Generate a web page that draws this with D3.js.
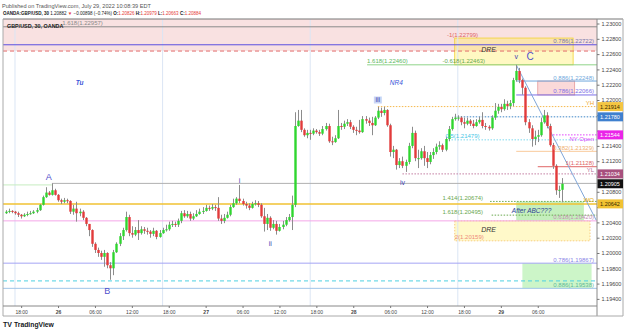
<!DOCTYPE html>
<html><head><meta charset="utf-8">
<script src="https://cdn.jsdelivr.net/npm/d3@7/dist/d3.min.js"></script>
<style>body{margin:0;background:#fff;}svg{display:block;font-family:"Liberation Sans",Arial,sans-serif;}</style>
</head><body><svg id="c" width="625" height="334"></svg>
<script>
// ---------- DATA ----------
const firstBarTime = "2022-07-25 15:30";   // 30-minute bars
const firstOpen = 1.2052;
const closes = [
1.2054,1.2055,1.2054,1.2052,1.2050,1.2048,1.2050,1.2051,1.2052,1.2054,
1.2056,1.2063,1.2073,1.2079,1.2076,1.2082,1.2076,1.2069,1.2067,1.2069,
1.2068,1.2054,1.2058,1.2052,1.2054,1.2046,1.2038,1.2030,1.2012,1.2004,
1.2000,1.1995,1.2000,1.1984,1.1980,1.2001,1.2012,1.2022,1.2030,1.2047,
1.2026,1.2024,1.2030,1.2026,1.2031,1.2029,1.2028,1.2025,1.2029,1.2021,
1.2026,1.2030,1.2031,1.2037,1.2038,1.2037,1.2042,1.2052,1.2048,1.2051,
1.2045,1.2048,1.2051,1.2054,1.2055,1.2059,1.2058,1.2060,1.2059,1.2045,
1.2042,1.2046,1.2050,1.2060,1.2065,1.2071,1.2068,1.2064,1.2062,1.2059,
1.2064,1.2065,1.2063,1.2048,1.2038,1.2046,1.2033,1.2038,1.2029,1.2034,
1.2037,1.2043,1.2047,1.2063,1.2166,1.2173,1.2161,1.2154,1.2157,1.2156,
1.2160,1.2158,1.2156,1.2162,1.2166,1.2146,1.2145,1.2150,1.2166,1.2165,
1.2169,1.2171,1.2165,1.2161,1.2160,1.2158,1.2175,1.2173,1.2170,1.2167,
1.2177,1.2186,1.2183,1.2187,1.2167,1.2132,1.2135,1.2115,1.2120,1.2114,
1.2119,1.2140,1.2157,1.2124,1.2124,1.2133,1.2124,1.2119,1.2128,1.2132,
1.2139,1.2141,1.2135,1.2149,1.2162,1.2175,1.2177,1.2177,1.2171,1.2169,
1.2173,1.2169,1.2166,1.2171,1.2174,1.2166,1.2165,1.2163,1.2177,1.2186,
1.2191,1.2188,1.2195,1.2192,1.2196,1.2226,1.2238,1.2226,1.2216,1.2171,
1.2163,1.2149,1.2152,1.2154,1.2171,1.2180,1.2166,1.2141,1.2114,1.2082,
1.20826,1.20905];
const highs = [
1.2056,1.2058,1.2056,1.2055,1.2054,1.2051,1.2052,1.2054,1.2055,1.2056,
1.2059,1.2064,1.2075,1.2086,1.2081,1.2091,1.2084,1.2077,1.2071,1.2072,
1.2071,1.2069,1.2063,1.2067,1.2058,1.2056,1.2047,1.2038,1.2031,1.2014,
1.2007,1.2003,1.2004,1.2001,1.1988,1.2004,1.2014,1.2026,1.2033,1.2054,
1.2050,1.2035,1.2034,1.2043,1.2035,1.2034,1.2033,1.2030,1.2033,1.2030,
1.2030,1.2033,1.2037,1.2041,1.2042,1.2041,1.2045,1.2055,1.2056,1.2055,
1.2054,1.2052,1.2056,1.2058,1.2060,1.2063,1.2062,1.2064,1.2063,1.2073,
1.2050,1.2051,1.2054,1.2063,1.2071,1.2073,1.2089,1.2071,1.2067,1.2065,
1.2067,1.2069,1.2068,1.2065,1.2059,1.2051,1.2048,1.2043,1.2042,1.2038,
1.2042,1.2047,1.2051,1.2075,1.2184,1.2187,1.2187,1.2163,1.2161,1.2161,
1.2163,1.2162,1.2161,1.2166,1.2170,1.2169,1.2152,1.2154,1.2187,1.2170,
1.2173,1.2175,1.2174,1.2167,1.2165,1.2174,1.2179,1.2179,1.2177,1.2178,
1.2179,1.2191,1.2190,1.2191,1.2188,1.2169,1.2140,1.2136,1.2124,1.2126,
1.2122,1.2144,1.2165,1.2160,1.2135,1.2137,1.2140,1.2132,1.2132,1.2137,
1.2143,1.2146,1.2143,1.2152,1.2166,1.2178,1.2182,1.2180,1.2179,1.2177,
1.2177,1.2175,1.2174,1.2175,1.2178,1.2184,1.2170,1.2167,1.2180,1.2196,
1.2195,1.2195,1.2201,1.2199,1.2200,1.2229,1.2246,1.2242,1.2228,1.2218,
1.2175,1.2167,1.2160,1.2161,1.2177,1.2187,1.2184,1.2169,1.2144,1.2116,
1.2088,1.20979];
const lows = [
1.2051,1.2052,1.2052,1.2050,1.2047,1.2045,1.2047,1.2048,1.2050,1.2051,
1.2052,1.2055,1.2062,1.2072,1.2075,1.2075,1.2075,1.2067,1.2064,1.2065,
1.2065,1.2051,1.2050,1.2041,1.2048,1.2043,1.2035,1.2022,1.2008,1.2000,
1.1995,1.1991,1.1982,1.1980,1.1965,1.1971,1.2000,1.2009,1.2017,1.2028,
1.2022,1.2020,1.2022,1.2017,1.2024,1.2025,1.2024,1.2020,1.2022,1.2018,
1.2020,1.2025,1.2028,1.2029,1.2034,1.2034,1.2034,1.2039,1.2046,1.2046,
1.2042,1.2043,1.2047,1.2050,1.2051,1.2054,1.2055,1.2056,1.2055,1.2042,
1.2038,1.2039,1.2045,1.2048,1.2059,1.2063,1.2065,1.2062,1.2058,1.2056,
1.2058,1.2062,1.2060,1.2046,1.2028,1.2030,1.2029,1.2031,1.2024,1.2028,
1.2031,1.2035,1.2041,1.2030,1.2060,1.2165,1.2158,1.2152,1.2150,1.2148,
1.2154,1.2156,1.2153,1.2154,1.2160,1.2144,1.2141,1.2144,1.2149,1.2161,
1.2162,1.2166,1.2162,1.2157,1.2154,1.2156,1.2157,1.2169,1.2166,1.2154,
1.2166,1.2175,1.2178,1.2180,1.2165,1.2126,1.2124,1.2109,1.2111,1.2111,
1.2106,1.2116,1.2137,1.2120,1.2111,1.2122,1.2114,1.2111,1.2116,1.2123,
1.2129,1.2135,1.2132,1.2133,1.2146,1.2160,1.2173,1.2173,1.2167,1.2163,
1.2167,1.2166,1.2163,1.2165,1.2169,1.2163,1.2161,1.2160,1.2161,1.2174,
1.2182,1.2184,1.2186,1.2187,1.2188,1.2192,1.2224,1.2222,1.2207,1.2167,
1.2157,1.2139,1.2141,1.2145,1.2152,1.2169,1.2163,1.2139,1.2110,1.2076,
1.2072,1.20663];

const yTicks = d3.range(1.194, 1.2301, 0.002);
const xTickTimes = ["2022-07-25 18:00","2022-07-26 00:00","2022-07-26 06:00","2022-07-26 12:00","2022-07-26 18:00",
  "2022-07-27 00:00","2022-07-27 06:00","2022-07-27 12:00","2022-07-27 18:00","2022-07-28 00:00","2022-07-28 06:00",
  "2022-07-28 12:00","2022-07-28 18:00","2022-07-29 00:00","2022-07-29 06:00"];
const sessionTimes = ["2022-07-25 17:00","2022-07-26 17:00","2022-07-27 17:00","2022-07-28 17:00"];

// horizontal levels: text, price, line start (null = left edge), label time (null = right side)
const levelText  = ["1.618(1.22957)","0.786(1.22722)","","1.618(1.22460)","0.886(1.22248)","0.786(1.22066)","YH","","NY Open",
  "0.5(1.21479)","0.382(1.21329)","1(1.21128)","YL","","1.414(1.20674)","WO","1.618(1.20495)","0.618(1.20420)","0.786(1.19867)","","0.886(1.19538)"];
const levelPrice = [1.22957,1.22722,1.2264,1.22460,1.22248,1.22066,1.21914,1.21780,1.21544,
  1.21479,1.21329,1.21128,1.21034,1.2091,1.20674,1.20642,1.20495,1.20420,1.19867,1.19635,1.19538];
const levelFrom  = [null,null,null,"2022-07-28 02:15","2022-07-29 02:30","2022-07-29 02:30","2022-07-28 04:00","2022-07-28 16:30","2022-07-29 08:00",
  "2022-07-28 15:00","2022-07-29 02:30","2022-07-29 06:00","2022-07-28 08:00","2022-07-25 23:00","2022-07-28 22:15",null,"2022-07-28 22:30",null,null,null,null];
const levelLabelAt = ["2022-07-26 00:40",null,null,"2022-07-28 02:15",null,null,null,null,null,
  "2022-07-28 15:00",null,null,null,null,"2022-07-28 14:30",null,"2022-07-28 14:30",null,null,null,null];

// extra fib labels: text, price, time
const extraText  = ["-1(1.22799)","-0.618(1.22463)","2(1.20159)"];
const extraPrice = [1.22799,1.22463,1.20159];
const extraTime  = ["2022-07-28 15:15","2022-07-28 14:30","2022-07-28 16:30"];

// zones: from time, to time (null = edge), top price, bottom price
const zoneFrom = [null,"2022-07-28 16:30","2022-07-29 06:00","2022-07-29 02:30","2022-07-28 16:30","2022-07-29 03:30"];
const zoneTo   = [null,"2022-07-29 11:45","2022-07-29 12:00","2022-07-29 13:30","2022-07-29 14:30","2022-07-29 14:45"];
const zoneTop  = [1.2306,1.22810,1.22248,1.20674,1.20420,1.19867];
const zoneBot  = [1.2264,1.22460,1.22066,1.20420,1.20159,1.19538];

// trend line from C
const trendTimes  = ["2022-07-29 02:30","2022-07-29 15:30"];
const trendPrices = [1.2246,1.2043];

// wave / text labels: text, time, price
const waveText  = ["A","B","i","ii","iii","iv","v","C","Tu","NR4","DRE","DRE","After ABC???"];
const waveTime  = ["2022-07-25 22:30","2022-07-26 08:00","2022-07-27 05:30","2022-07-27 10:30","2022-07-28 04:00","2022-07-28 08:00",
  "2022-07-29 02:30","2022-07-29 04:45","2022-07-26 03:30","2022-07-28 07:00","2022-07-28 22:00","2022-07-28 22:00","2022-07-29 05:00"];
const wavePrice = [1.2099,1.1950,1.2095,1.2012,1.2200,1.2092,1.2257,1.2257,1.2222,1.2222,1.2266,1.2031,1.2055];

const axisMarks = [1.21914,1.21780,1.21544,1.21034,1.20905,1.20642];

// header quote line pieces
const quoteParts = ["OANDA:GBP/USD, 30 ","1.20882 ","▼ ","−0.00898 (−0.74%) ","O:","1.20826 ","H:","1.20979 ","L:","1.20663 ","C:","1.20884"];

// ---------- DRAW ----------
const svg = d3.select("#c");
const T = d3.timeParse("%Y-%m-%d %H:%M");
const L = 3, R = 597, TOP = 19, BOT = 306;
const x = d3.scaleTime().domain([T("2022-07-25 15:03"), T("2022-07-29 15:38")]).range([L, R]);
const y = d3.scaleLinear().domain([1.19307, 1.23059]).range([BOT, TOP]);
const fmt = d3.format(".5f");

svg.append("defs").append("clipPath").attr("id","plot").append("rect")
  .attr("x",L).attr("y",TOP).attr("width",R-L).attr("height",BOT-TOP);
const g = svg.append("g").attr("clip-path","url(#plot)");

const xs = t => t ? x(T(t)) : null;

// zones
const zoneStyle = [
  {fill:"#f9e1e1", stroke:"none"},
  {fill:"rgba(255,236,80,0.35)", stroke:"#f1d232"},
  {fill:"rgba(240,120,120,0.28)", stroke:"#e59a9a"},
  {fill:"rgba(110,215,90,0.40)", stroke:"none"},
  {fill:"rgba(255,240,120,0.40)", stroke:"#f6c26b"},
  {fill:"rgba(120,230,110,0.38)", stroke:"none"}];
zoneTop.forEach((tp,i)=>{
  const x0 = zoneFrom[i] ? xs(zoneFrom[i]) : L, x1 = zoneTo[i] ? xs(zoneTo[i]) : R;
  g.append("rect").attr("x",x0).attr("y",y(tp)).attr("width",x1-x0).attr("height",y(zoneBot[i])-y(tp))
   .attr("fill",zoneStyle[i].fill).attr("stroke",zoneStyle[i].stroke).attr("stroke-width",0.8)
   .attr("stroke-dasharray", i===4 ? "1.5,1.5" : null);
});

// session separators
sessionTimes.forEach(t=>{
  g.append("line").attr("x1",xs(t)).attr("x2",xs(t)).attr("y1",TOP).attr("y2",BOT)
   .attr("stroke","#dbe5f4").attr("stroke-width",1);
});

// levels
const levelStyle = [
 {c:"#8a8a8a",d:null,w:1,tc:"#8a8a8a"},
 {c:"#5a4fe0",d:null,w:1,tc:"#7777aa"},
 {c:"#e26d6d",d:"4,3",w:1,tc:"#e26d6d"},
 {c:"#8fd48a",d:null,w:1,tc:"#5cb85c"},
 {c:"#6fa8dc",d:null,w:1,tc:"#6fa8dc"},
 {c:"#7b6fe6",d:null,w:1,tc:"#7b6fe6"},
 {c:"#f6b84b",d:"1.5,1.5",w:1,tc:"#f0a830"},
 {c:"#3d85c6",d:"1.5,1.5",w:1,tc:"#3d85c6"},
 {c:"#e040fb",d:"1.5,1.5",w:1,tc:"#e040fb"},
 {c:"#7fd9ee",d:"1.5,1.5",w:1,tc:"#46c6e6"},
 {c:"#f9cb9c",d:null,w:1,tc:"#efb070"},
 {c:"#e06666",d:null,w:1,tc:"#e06666"},
 {c:"#c27ba0",d:"1.5,1.5",w:1,tc:"#b5719a"},
 {c:"#b0b0b0",d:null,w:1,tc:"#999"},
 {c:"#6aa84f",d:"1.5,1.5",w:1,tc:"#6aa84f"},
 {c:"#f1c232",d:null,w:1.5,tc:"#e6a800"},
 {c:"#6aa84f",d:"1.5,1.5",w:1,tc:"#6aa84f"},
 {c:"#f4a6e8",d:null,w:1,tc:"#c58fb5"},
 {c:"#a4a4f4",d:null,w:1,tc:"#8a86e6"},
 {c:"#4dd0e1",d:"4,3",w:1,tc:"#4dd0e1"},
 {c:"#9fc5e8",d:null,w:1,tc:"#5fb89a"}];
levelPrice.forEach((p,i)=>{
  const s = levelStyle[i], yy = y(p);
  const x0 = levelFrom[i] ? xs(levelFrom[i]) : L;
  g.append("line").attr("x1",x0).attr("x2",R).attr("y1",yy).attr("y2",yy)
   .attr("stroke",s.c).attr("stroke-width",s.w).attr("stroke-dasharray",s.d);
});
// light green segment before A line
g.append("line").attr("x1",L).attr("x2",xs("2022-07-25 23:00")).attr("y1",y(1.2089)).attr("y2",y(1.2089))
  .attr("stroke","#c6ecc0").attr("stroke-width",1);

// trend line
g.append("line").attr("x1",xs(trendTimes[0])).attr("y1",y(trendPrices[0]))
  .attr("x2",xs(trendTimes[1])).attr("y2",y(trendPrices[1])).attr("stroke","#7fa6d9").attr("stroke-width",1);

// candles
const t0 = T(firstBarTime);
const bars = closes.map((c,i)=>({t:d3.timeMinute.offset(t0,30*i), o: i===0?firstOpen:closes[i-1], c, h:highs[i], l:lows[i]}));
const cg = g.append("g");
bars.forEach(b=>{
  const cx = Math.round(x(b.t))+0.5;
  const up = b.c >= b.o;
  const hi = Math.max(b.h,b.o,b.c), lo = Math.min(b.l,b.o,b.c);
  cg.append("line").attr("x1",cx).attr("x2",cx).attr("y1",y(hi)).attr("y2",y(lo)).attr("stroke","#8c8c8c").attr("stroke-width",1);
  const yt = y(Math.max(b.o,b.c)), yb = y(Math.min(b.o,b.c));
  cg.append("rect").attr("x",cx-1.2).attr("width",2.4).attr("y",yt).attr("height",Math.max(1,yb-yt))
    .attr("fill", up ? "#2fd62f" : "#e23b3b");
});

// level labels
const lab = svg.append("g").attr("font-size",6).attr("clip-path","url(#plot)");
levelText.forEach((t,i)=>{
  if(!t) return;
  const s = levelStyle[i], yy = y(levelPrice[i]);
  if(levelLabelAt[i]) lab.append("text").attr("x",xs(levelLabelAt[i])).attr("y",yy-1.5).attr("fill",s.tc).text(t);
  else lab.append("text").attr("x",594).attr("y", i===8 ? yy+6 : yy-1.5).attr("text-anchor","end").attr("fill",s.tc).text(t);
});
const extraColor = ["#e06666","#6aa84f","#ee8a7a"];
extraText.forEach((t,i)=>{
  lab.append("text").attr("x",xs(extraTime[i])).attr("y",y(extraPrice[i])-1.5).attr("fill",extraColor[i]).text(t);
});

// wave labels
const waveStyle = [
 {s:9,c:"#5050cc",w:"normal",f:"normal"},{s:9,c:"#5050cc",w:"normal",f:"normal"},
 {s:7,c:"#3f3fb0",w:"normal",f:"normal"},{s:7,c:"#3f3fb0",w:"normal",f:"normal"},
 {s:7,c:"#3f3fb0",w:"normal",f:"normal",bg:"#c9d6f6"},{s:7,c:"#3f3fb0",w:"normal",f:"normal"},
 {s:7,c:"#3f3fb0",w:"normal",f:"normal"},{s:10,c:"#5050cc",w:"normal",f:"normal"},
 {s:6.5,c:"#3a55d8",w:"bold",f:"italic"},{s:6.5,c:"#3a55d8",w:"normal",f:"italic"},
 {s:7,c:"#333",w:"normal",f:"italic"},{s:7,c:"#333",w:"normal",f:"italic"},
 {s:6.5,c:"#2c3e94",w:"normal",f:"italic"}];
waveText.forEach((t,i)=>{
  const st = waveStyle[i];
  const tx = xs(waveTime[i]), ty = y(wavePrice[i]);
  if(st.bg) svg.append("rect").attr("x",tx-4).attr("y",ty-3.5).attr("width",8).attr("height",7).attr("fill",st.bg);
  svg.append("text").attr("x",tx).attr("y",ty).attr("dy","0.35em").attr("text-anchor","middle")
    .attr("font-size",st.s).attr("fill",st.c).attr("font-weight",st.w).attr("font-style",st.f).text(t);
});

// symbol title in pane
svg.append("text").attr("x",7).attr("y",28).attr("font-size",5.4).attr("font-weight","bold").attr("fill","#222").text("GBP/USD, 30, OANDA");

// frame
const fr = svg.append("g").attr("fill","none");
fr.append("line").attr("x1",L).attr("x2",623).attr("y1",TOP).attr("y2",TOP).attr("stroke","#777");
fr.append("line").attr("x1",L).attr("x2",L).attr("y1",TOP).attr("y2",316).attr("stroke","#aaa");
fr.append("line").attr("x1",R).attr("x2",R).attr("y1",TOP).attr("y2",316).attr("stroke","#888");
fr.append("line").attr("x1",623).attr("x2",623).attr("y1",TOP).attr("y2",316).attr("stroke","#aaa");
fr.append("line").attr("x1",L).attr("x2",R).attr("y1",BOT).attr("y2",BOT).attr("stroke","#888");
fr.append("line").attr("x1",L).attr("x2",623).attr("y1",316).attr("y2",316).attr("stroke","#aaa");

// y axis (labels hidden where a price mark covers them)
const covered = v => axisMarks.some(m => Math.abs(y(m) - y(v)) < 6.5);
const ya = svg.append("g").attr("transform",`translate(${R},0)`)
  .call(d3.axisRight(y).tickValues(yTicks).tickFormat(v => covered(v) ? "" : fmt(v)).tickSize(2.5).tickPadding(2));
ya.select(".domain").remove();
ya.selectAll("line").attr("stroke","#777");
ya.selectAll("text").attr("font-size",5.5).attr("fill","#444").attr("font-family","Liberation Sans, Arial, sans-serif");

// x axis
const xa = svg.append("g").attr("transform",`translate(0,${BOT})`)
  .call(d3.axisBottom(x).tickValues(xTickTimes.map(T)).tickSize(2).tickPadding(2)
    .tickFormat(d => d.getHours()===0 ? d3.timeFormat("%-d")(d) : d3.timeFormat("%H:%M")(d)));
xa.select(".domain").remove();
xa.selectAll("line").attr("stroke","#777");
xa.selectAll("text").attr("font-size",5).attr("fill","#444").attr("font-family","Liberation Sans, Arial, sans-serif")
  .attr("font-weight", d => d.getHours()===0 ? "bold" : "normal");

// axis price marks
const markBg = ["#f4c542","#3f80cf","#ea24e8","#a8507e","#111111","#f1c232"];
const markFg = ["#3a2a00","#fff","#fff","#fff","#fff","#3a2a00"];
axisMarks.forEach((p,i)=>{
  const yy = y(p);
  svg.append("rect").attr("x",R+0.5).attr("y",yy-4.5).attr("width",25.5).attr("height",9).attr("fill",markBg[i]);
  svg.append("text").attr("x",R+13).attr("y",yy).attr("dy","0.35em").attr("text-anchor","middle")
    .attr("font-size",5.5).attr("fill",markFg[i]).text(fmt(p));
});

// header
svg.append("text").attr("x",2).attr("y",7.5).attr("font-size",5.6).attr("fill","#555")
  .text("Published on TradingView.com, July 29, 2022 10:08:39 EDT");
const partColor = ["#131722","#131722","#e53935","#131722","#131722","#e53935","#131722","#e53935","#131722","#e53935","#131722","#e53935"];
const partWeight = ["bold","normal","normal","normal","bold","normal","bold","normal","bold","normal","bold","normal"];
const q = svg.append("text").attr("x",3).attr("y",15).attr("font-size",4.5);
quoteParts.forEach((t,i)=>q.append("tspan").attr("fill",partColor[i]).attr("font-weight",partWeight[i]).text(t));

// logo
svg.append("text").attr("x",3).attr("y",327).attr("font-size",7).attr("font-weight","bold").attr("fill","#131722").text("TV");
svg.append("text").attr("x",14).attr("y",327).attr("font-size",6.8).attr("font-weight","bold").attr("fill","#131722").text("TradingView");
</script></body></html>
